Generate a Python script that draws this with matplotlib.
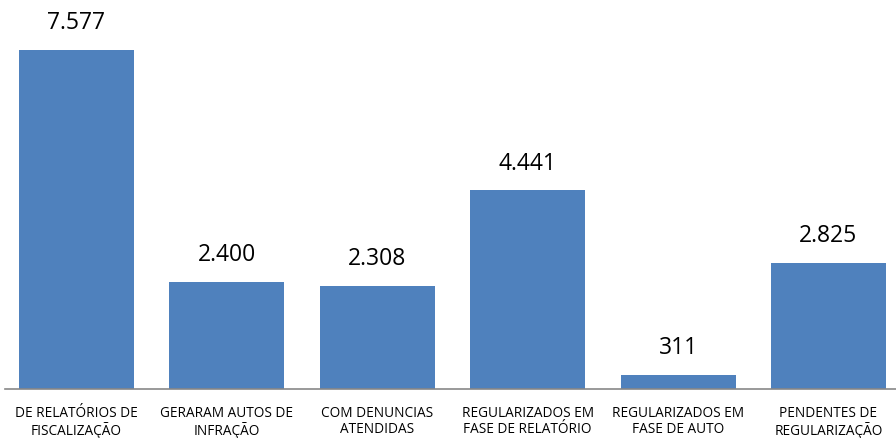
import matplotlib.pyplot as plt

categorias = ["DE RELATÓRIOS DE\nFISCALIZAÇÃO", "GERARAM AUTOS DE\nINFRAÇÃO",
              "COM DENUNCIAS\nATENDIDAS", "REGULARIZADOS EM\nFASE DE RELATÓRIO",
              "REGULARIZADOS EM\nFASE DE AUTO", "PENDENTES DE\nREGULARIZAÇÃO"]
valores = [7577, 2400, 2308, 4441, 311, 2825]

plt.rcParams['font.family'] = ['Open Sans', 'DejaVu Sans']

W, H = 896, 438
fig = plt.figure(figsize=(W / 100, H / 100), dpi=100)
ax = fig.add_axes([5 / W, (H - 389) / H, (896 - 5) / W, 389 / H])

x = range(len(valores))
barras = ax.bar(x, valores, width=0.765, color='#4F81BD')

for xi, v in zip(x, valores):
    txt = f"{v:,}".replace(",", ".")
    ax.text(xi, v + 330, txt, ha='center', va='bottom', fontsize=16.5, color='#000000')

ax.set_xlim(-0.475, 5.449)
ax.set_ylim(0, 8695)
ax.set_xticks(list(x))
ax.set_xticklabels(categorias, fontsize=9.8, linespacing=1.12)
ax.tick_params(axis='x', length=0, pad=12)
ax.set_yticks([])
for lado in ['top', 'right', 'left']:
    ax.spines[lado].set_visible(False)
ax.spines['bottom'].set_color('#878787')
ax.spines['bottom'].set_linewidth(1.2)

fig.savefig('out.png', dpi=100)
